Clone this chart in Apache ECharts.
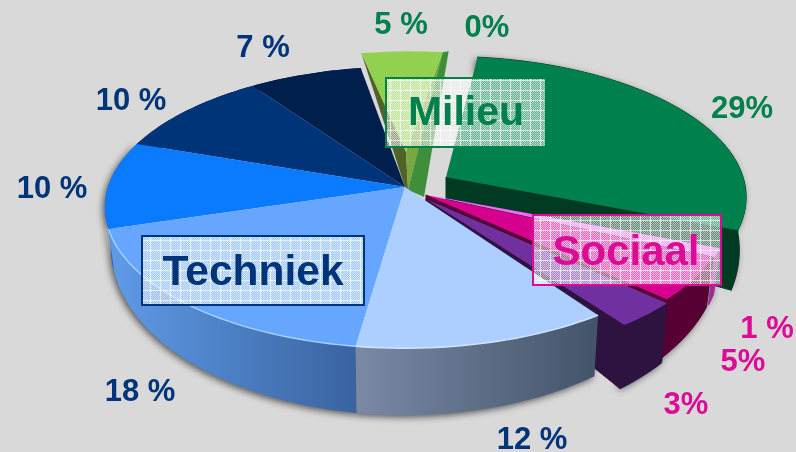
<!DOCTYPE html>
<html><head><meta charset="utf-8">
<style>html,body{margin:0;padding:0;background:#d9d9d9}#c{width:796px;height:452px}</style>
<script src="https://cdn.jsdelivr.net/npm/echarts@6/dist/echarts.min.js"></script>
</head><body><div id="c"></div>
<script>
// data, clockwise from the start angle
var sliceNames = ['Milieu 5','Milieu 0','Milieu 29','Sociaal 1','Sociaal 5','Sociaal 3','Techniek 12','Techniek 18','Techniek 10a','Techniek 10b','Techniek 7'];
var sliceValues = [5,0,29,1,5,3,12,18,10,10,7];
var sliceLabels = ['5 %','0%','29%','1 %','5%','3%','12 %','18 %','10 %','10 %','7 %'];
var groupLabels = ['Techniek','Milieu','Sociaal'];

// layout and styling
var labelPos = [[401,25],[487,28],[742,109],[767,329],[743,362],[686,405],[532,440],[140,392],[52,189],[131,101],[263,48]];
var NAVY='#003478', GREEN='#00804c', PINK='#db0b96';
var labelCol = [GREEN,GREEN,GREEN,PINK,PINK,PINK,NAVY,NAVY,NAVY,NAVY,NAVY];
var offsets = [[6,-15],[6,-15],[41,-10],[23,8],[21,8],[21,12],[0,0],[0,0],[0,0],[0,0],[0,0]];
var extraDepth = [0,0,14,0,2,3,0,0,0,0,0];
var angleShift = [0,0,0,0,0,0,1.2,1.2,1.2,1.2,1.2];
var topCol = ['#92d050','#3f8f3a','#00804c','#ff66ff','#d6008f','#7030a0','#adcfff','#66a6ff','#0a7aff','#003478','#001f4d'];
function g(a,b){return {type:'linear',x:0,y:0,x2:1,y2:0,colorStops:[{offset:0,color:a},{offset:1,color:b}]};}
var wallCol = ['#4f6228','#3f8f3a','#003a22','#a02a90','#560034','#2e1240',g('#7a8aa5','#43536a'),g('#5f9be8','#3a639f'),'#0a6ff0','#002a60','#001f4d'];
var drawOrder = [0,1,2,3,4,5,10,9,8,7,6];
var START=-11, CX=405, CY=187, RX=297, RY=138, PERSP=0.144, D0=34, D1=33;

var total = sliceValues.reduce(function(a,b){return a+b;},0);
var startA=[], acc=START;
sliceValues.forEach(function(v,i){startA.push(acc+angleShift[i]); acc+=v/total*360;});

function rim(a,o){
  var r=a*Math.PI/180,u=Math.sin(r),v=-Math.cos(r),d=1/(1-PERSP*v);
  return {x:CX+o[0]+RX*u*d,y:CY+o[1]+RY*v*d,v:v};
}
function tile(){
  var c=document.createElement('canvas');c.width=10;c.height=10;var x=c.getContext('2d');
  for(var i=0;i<10;i++)for(var j=0;j<10;j++){
    var a=(i===0||j===0)?0.85:((i+j)%2===0?0.72:0.38);
    x.fillStyle='rgba(255,255,255,'+a+')';x.fillRect(i,j,1,1);
  }
  return c;
}
function renderSlice(params,api){
  var i=api.value(0), a0=startA[i], a1=a0+sliceValues[i]/total*360, o=offsets[i], kids=[], ex=extraDepth[i];
  function low(p){return [CX+(p.x-CX)*0.98,p.y+D0+D1*p.v+ex];}
  var apex={x:CX+o[0],y:CY+o[1],v:0};
  var top=[],bot=[],n=Math.max(2,Math.ceil((a1-a0)/1.5)),k;
  for(k=0;k<=n;k++){var p=rim(a0+(a1-a0)*k/n,o);top.push([p.x,p.y]);bot.push(low(p));}
  var first=rim(a0,o), last=rim(a1,o);
  function poly(pts,fill,seal){
    kids.push({type:'polygon',shape:{points:pts},style:{fill:fill,stroke:seal?fill:null,lineWidth:seal?1:0},silent:true});
  }
  var ax=apex.x, ay=apex.y;
  if(i===0){
    var A=[ax-5,ay-20];
    poly([[first.x,first.y],A,[ax-3,ay+18],[ax-6,ay+15]],'#4f6228');
    poly([[last.x,last.y],A,[ax-3,ay+18]],'#7aa83e');
    poly(top.concat([A]),topCol[i]);
  } else if(i===1){
    poly([[first.x,first.y],[ax-3,ay+18],[ax+13,ay+25],[first.x+6,first.y-1]],wallCol[i]);
  } else {
    var wall=top.concat(bot.slice().reverse());
    if(i!==9&&i!==10){
      kids.push({type:'polygon',z2:-10,shape:{points:wall},silent:true,
        style:{fill:'#777',shadowBlur:7,shadowColor:'rgba(0,0,0,0.6)',shadowOffsetY:2,shadowOffsetX:-2}});
    }
    poly(wall,wallCol[i],i<6);
    if(i===2||i===4||i===5){
      poly([[ax,ay],[last.x,last.y],low(last),[ax,ay+D0]],wallCol[i],true);
    }
    poly([[ax,ay]].concat(top),topCol[i]);
    if(i===7||i===6){kids.push({type:'polyline',shape:{points:top},style:{stroke:i===7?'#a5d2ff':'#d3e6ff',fill:null,lineWidth:1.4},silent:true});}
  }
  return {type:'group',children:kids};
}
function box(x,y,w,h,col,t,cx,cy,fs){
  return [{type:'rect',z:50,shape:{x:x,y:y,width:w,height:h},style:{fill:{image:tile(),repeat:'repeat'},stroke:col,lineWidth:2},silent:true},
    {type:'text',z:51,x:cx,y:cy,style:{text:t,fill:col,font:'bold '+fs+'px "Liberation Sans"',textAlign:'center',textVerticalAlign:'middle'},silent:true}];
}
var els=[].concat(
  box(142,236,222,69,NAVY,groupLabels[0],253,273,42.5),
  box(386,78,160,69,GREEN,groupLabels[1],466,114,41),
  box(533,215,188,70,PINK,groupLabels[2],626,253,42)
);
sliceLabels.forEach(function(t,i){
  els.push({type:'text',z:52,x:labelPos[i][0],y:labelPos[i][1],style:{text:t,fill:labelCol[i],font:'bold 31px "Liberation Sans"',textAlign:'center',textVerticalAlign:'middle'},silent:true});
});
var chart=echarts.init(document.getElementById('c'),null,{renderer:'canvas'});
chart.setOption({
  animation:false,
  backgroundColor:'#d9d9d9',
  graphic:{elements:els},
  series:[{type:'custom',coordinateSystem:'none',silent:true,clip:false,
    data:drawOrder.map(function(i){return {value:[i,sliceValues[i]],name:sliceNames[i]};}),
    encode:{value:1},
    renderItem:renderSlice}]
});
</script></body></html>
